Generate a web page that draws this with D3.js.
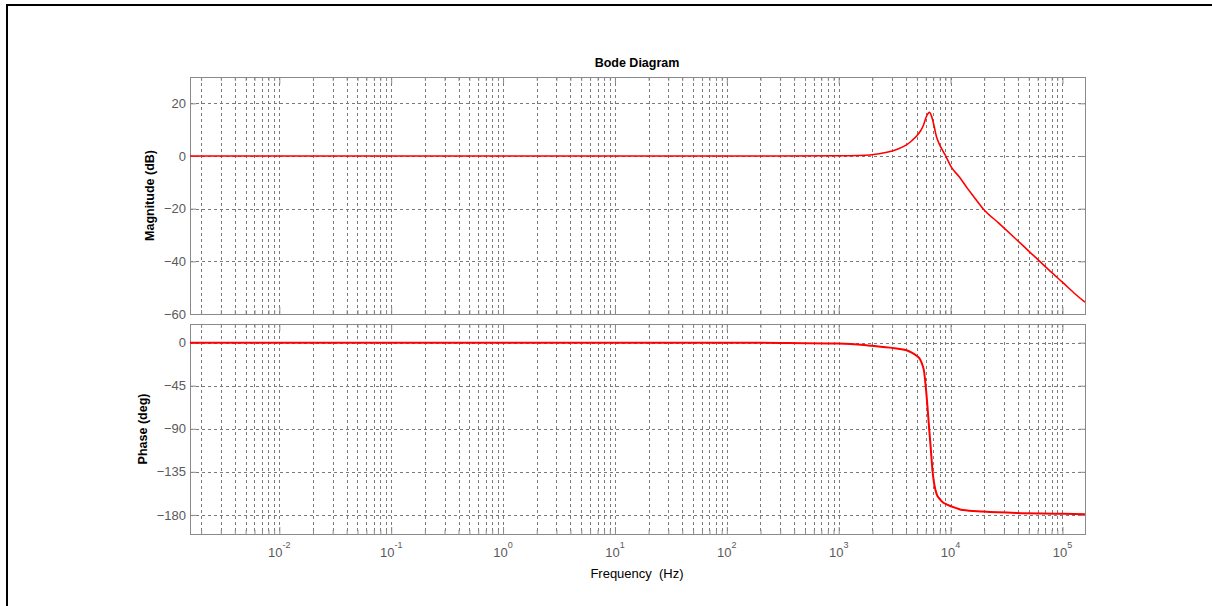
<!DOCTYPE html>
<html>
<head>
<meta charset="utf-8">
<script src="https://cdn.jsdelivr.net/npm/d3@7"></script>
<style>
  html, body { margin: 0; padding: 0; background: #fff; }
  svg { display: block; font-family: "Liberation Sans", Arial, sans-serif; }
</style>
</head>
<body>
<svg id="chart" width="1212" height="606"></svg>
<script>
// frequency range of the x axis (Hz)
const freqDomain = [1.5915e-3, 1.5915e5];
const freqDecades = [-2, -1, 0, 1, 2, 3, 4, 5];

// magnitude curve: frequency (Hz) and dB
const magFreq = [1.5915e-3, 1, 100, 1000, 1500, 1900, 2700, 3300, 4000, 4500, 5000, 5400,
  5700, 6100, 6500, 6700, 7000, 7500, 8000, 8900, 10200, 12000, 14000, 15900, 19500,
  27000, 38800, 50000, 62700, 80000, 101000, 130000, 159000];
const magDb = [0, 0, 0, 0.1, 0.2, 0.4, 1.4, 2.5, 4.1, 5.8, 7.7, 9.6,
  11.5, 15.1, 16.6, 15.6, 12.8, 7.2, 4.2, 0.6, -4.3, -8.0, -12.0, -15.1, -20.0,
  -25.5, -31.7, -36.1, -40.0, -44.2, -48.1, -52.4, -55.5];

// phase curve: frequency (Hz) and degrees
const phaseFreq = [1.5915e-3, 100, 300, 1000, 1780, 2870, 4040, 4500, 5000, 5320, 5550,
  5780, 6010, 6230, 6440, 6670, 6900, 7150, 7500, 8000, 8570, 9200, 11300, 12900, 19500,
  38800, 101000, 159000];
const phaseDeg = [0, -0.1, -0.3, -1, -2.8, -5.2, -8, -10.5, -14, -17, -22,
  -29, -46.5, -68, -90, -112, -134, -148, -158, -163.5, -167, -169, -173, -175, -176.5,
  -178, -178.8, -179.4];

const magTicks = [20, 0, -20, -40, -60];
const phaseTicks = [0, -45, -90, -135, -180];

const svg = d3.select('#chart');

// outer frame (only left and top are inside the window)
svg.append('rect')
  .attr('x', 7).attr('y', 5)
  .attr('width', 1240).attr('height', 640)
  .attr('fill', 'none')
  .attr('stroke', '#000')
  .attr('stroke-width', 2);

const left = 190, right = 1085;
const x = d3.scaleLog().domain(freqDomain).range([left, right]);

const minorTicks = [];
for (let e = -3; e <= 5; e++) {
  for (let m = 2; m <= 9; m++) {
    const v = m * Math.pow(10, e);
    if (v > freqDomain[0] && v < freqDomain[1]) minorTicks.push(v);
  }
}
const majorTicks = freqDecades.map((e) => Math.pow(10, e));

const gridColor = '#7a7a7a';
const boxColor = '#8a8a8a';

function drawPanel({ top, bottom, yDomain, yTicks, freq, vals, label, labelX, lineWidth }) {
  const y = d3.scaleLinear().domain(yDomain).range([bottom, top]);
  const g = svg.append('g');

  // vertical grid
  g.selectAll('line.vg')
    .data(minorTicks.concat(majorTicks))
    .join('line')
    .attr('x1', (d) => Math.round(x(d)) + 0.5)
    .attr('x2', (d) => Math.round(x(d)) + 0.5)
    .attr('y1', top)
    .attr('y2', bottom)
    .attr('stroke', gridColor)
    .attr('stroke-width', 1)
    .attr('stroke-dasharray', '3,3');

  // horizontal grid
  g.selectAll('line.hg')
    .data(yTicks.filter((t) => y(t) > top + 1 && y(t) < bottom - 1))
    .join('line')
    .attr('x1', left)
    .attr('x2', right)
    .attr('y1', (d) => Math.round(y(d)) + 0.5)
    .attr('y2', (d) => Math.round(y(d)) + 0.5)
    .attr('stroke', gridColor)
    .attr('stroke-width', 1)
    .attr('stroke-dasharray', '3,3');

  // x tick marks, bottom and top
  const tickStyle = (sel) => {
    sel.select('.domain').remove();
    sel.selectAll('line').attr('stroke', boxColor);
    sel.selectAll('text').remove();
  };
  g.append('g').attr('transform', `translate(0,${bottom})`)
    .call(d3.axisBottom(x).tickValues(minorTicks).tickSizeInner(-4).tickSizeOuter(0)).call(tickStyle);
  g.append('g').attr('transform', `translate(0,${bottom})`)
    .call(d3.axisBottom(x).tickValues(majorTicks).tickSizeInner(-7).tickSizeOuter(0)).call(tickStyle);
  g.append('g').attr('transform', `translate(0,${top})`)
    .call(d3.axisTop(x).tickValues(minorTicks).tickSizeInner(-4).tickSizeOuter(0)).call(tickStyle);
  g.append('g').attr('transform', `translate(0,${top})`)
    .call(d3.axisTop(x).tickValues(majorTicks).tickSizeInner(-7).tickSizeOuter(0)).call(tickStyle);

  // y ticks, left and right
  g.append('g').attr('transform', `translate(${left},0)`)
    .call(d3.axisLeft(y).tickValues(yTicks).tickSizeInner(-6).tickSizeOuter(0).tickPadding(4))
    .call((sel) => {
      sel.select('.domain').remove();
      sel.selectAll('line').attr('stroke', boxColor);
      sel.selectAll('text')
        .attr('x', -4)
        .attr('fill', '#5a5a5a')
        .style('font-size', '13px')
        .style('font-family', '"Liberation Sans", Arial, sans-serif');
    });
  g.append('g').attr('transform', `translate(${right},0)`)
    .call(d3.axisRight(y).tickValues(yTicks).tickSizeInner(-6).tickSizeOuter(0))
    .call(tickStyle);

  // box
  g.append('rect')
    .attr('x', left + 0.5).attr('y', top + 0.5)
    .attr('width', right - left).attr('height', bottom - top)
    .attr('fill', 'none')
    .attr('stroke', boxColor)
    .attr('stroke-width', 1);

  // curve
  const line = d3.line()
    .x((d) => x(d[0]))
    .y((d) => y(d[1]))
    .curve(d3.curveMonotoneX);
  g.append('path')
    .datum(freq.map((f, i) => [f, vals[i]]))
    .attr('d', line)
    .attr('fill', 'none')
    .attr('stroke', '#ff0000')
    .attr('stroke-width', lineWidth);

  // y label
  svg.append('text')
    .attr('transform', `translate(${labelX},${(top + bottom) / 2}) rotate(-90)`)
    .attr('text-anchor', 'middle')
    .attr('dominant-baseline', 'central')
    .style('font-size', '12.5px')
    .style('font-weight', 'bold')
    .text(label);

  return y;
}

drawPanel({
  top: 77, bottom: 314, yDomain: [-60, 30], yTicks: magTicks,
  freq: magFreq, vals: magDb, label: 'Magnitude (dB)', labelX: 150, lineWidth: 1.6,
});
drawPanel({
  top: 324, bottom: 534, yDomain: [-200, 19.5], yTicks: phaseTicks,
  freq: phaseFreq, vals: phaseDeg, label: 'Phase (deg)', labelX: 143, lineWidth: 2,
});

// x tick labels with superscript exponents
const xl = svg.append('g')
  .selectAll('text')
  .data(freqDecades)
  .join('text')
  .attr('x', (d) => x(Math.pow(10, d)))
  .attr('y', 557)
  .attr('text-anchor', 'middle')
  .attr('fill', '#5a5a5a')
  .style('font-size', '13px');
xl.append('tspan').text('10');
xl.append('tspan')
  .attr('dy', -9)
  .style('font-size', '9px')
  .text((d) => d);

// title and x label
svg.append('text')
  .attr('x', 637).attr('y', 67)
  .attr('text-anchor', 'middle')
  .style('font-size', '12.5px')
  .style('font-weight', 'bold')
  .text('Bode Diagram');

svg.append('text')
  .attr('x', 637).attr('y', 578)
  .attr('text-anchor', 'middle')
  .attr('xml:space', 'preserve')
  .style('font-size', '13px')
  .style('white-space', 'pre')
  .text('Frequency  (Hz)');
</script>
</body>
</html>
